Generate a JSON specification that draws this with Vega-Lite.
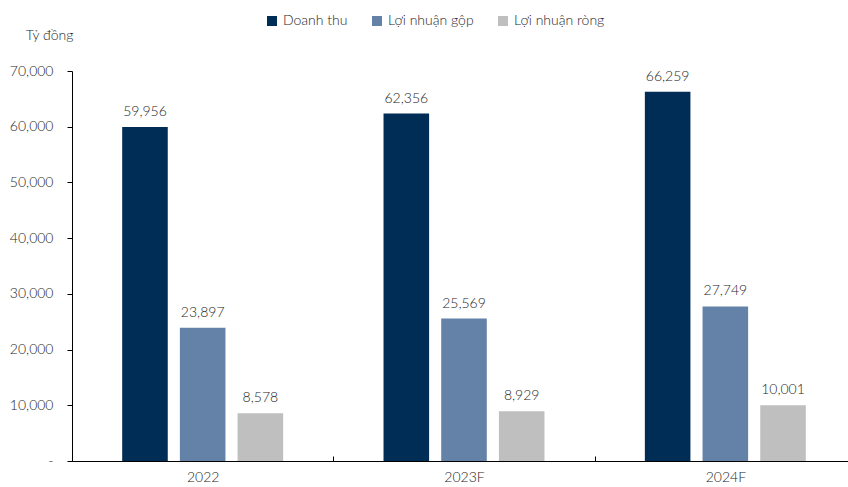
{
  "$schema": "https://vega.github.io/schema/vega-lite/v6.json",
  "width": 776,
  "height": 390,
  "autosize": "none",
  "padding": {"left": 72, "top": 71, "right": 0, "bottom": 26},
  "data": {
    "values": [
      {"year": "2022", "metric": "Doanh thu", "value": 59956},
      {"year": "2022", "metric": "Lợi nhuận gộp", "value": 23897},
      {"year": "2022", "metric": "Lợi nhuận ròng", "value": 8578},
      {"year": "2023F", "metric": "Doanh thu", "value": 62356},
      {"year": "2023F", "metric": "Lợi nhuận gộp", "value": 25569},
      {"year": "2023F", "metric": "Lợi nhuận ròng", "value": 8929},
      {"year": "2024F", "metric": "Doanh thu", "value": 66259},
      {"year": "2024F", "metric": "Lợi nhuận gộp", "value": 27749},
      {"year": "2024F", "metric": "Lợi nhuận ròng", "value": 10001}
    ]
  },
  "encoding": {
    "x": {
      "field": "year",
      "type": "nominal",
      "sort": ["2022", "2023F", "2024F"],
      "scale": {"paddingInner": 0, "paddingOuter": 0, "range": [0, 784]},
      "axis": {
        "title": null,
        "labelAngle": 0,
        "labelPadding": 14,
        "tickBand": "extent",
        "tickSize": -5,
        "labelFontSize": 14
      }
    },
    "xOffset": {
      "field": "metric",
      "type": "nominal",
      "sort": ["Doanh thu", "Lợi nhuận gộp", "Lợi nhuận ròng"],
      "scale": {"paddingInner": 0.21, "paddingOuter": 0.87}
    },
    "y": {
      "field": "value",
      "type": "quantitative",
      "scale": {"domain": [0, 70000], "nice": false},
      "axis": {
        "title": "Tỷ đồng",
        "titleAngle": 0,
        "titleX": -23,
        "titleY": -36,
        "titleAlign": "center",
        "titleBaseline": "middle",
        "titleFontWeight": 300,
        "titleFontSize": 14,
        "titleColor": "#262626",
        "values": [0, 10000, 20000, 30000, 40000, 50000, 60000, 70000],
        "labelExpr": "datum.value === 0 ? '-\u00a0\u00a0\u00a0' : format(datum.value, ',')",
        "grid": false,
        "tickSize": 5,
        "labelPadding": 14,
        "labelFontSize": 14
      }
    }
  },
  "layer": [
    {
      "mark": {"type": "bar"},
      "encoding": {
        "color": {
          "field": "metric",
          "type": "nominal",
          "sort": ["Doanh thu", "Lợi nhuận gộp", "Lợi nhuận ròng"],
          "scale": {"range": ["#002D56", "#6482A8", "#BFBFBF"]},
          "legend": {
            "title": null,
            "orient": "none",
            "direction": "horizontal",
            "legendX": 193,
            "legendY": -57,
            "symbolType": "square",
            "symbolSize": 100,
            "symbolStrokeWidth": 0,
            "labelFontSize": 14,
            "labelFontWeight": 300,
            "labelColor": "#262626",
            "labelOffset": 4,
            "columnPadding": 22
          }
        }
      }
    },
    {
      "mark": {"type": "text", "dy": -15, "fontSize": 14, "fontWeight": 300, "color": "#262626"},
      "encoding": {
        "text": {"field": "value", "type": "quantitative", "format": ","}
      }
    }
  ],
  "config": {
    "font": "Lato",
    "view": {"stroke": null},
    "axis": {
      "domainColor": "#000000",
      "tickColor": "#000000",
      "labelColor": "#262626",
      "labelFont": "Lato",
      "labelFontWeight": 300,
      "titleFont": "Lato"
    },
    "legend": {"labelFont": "Lato"},
    "text": {"font": "Lato"}
  }
}
